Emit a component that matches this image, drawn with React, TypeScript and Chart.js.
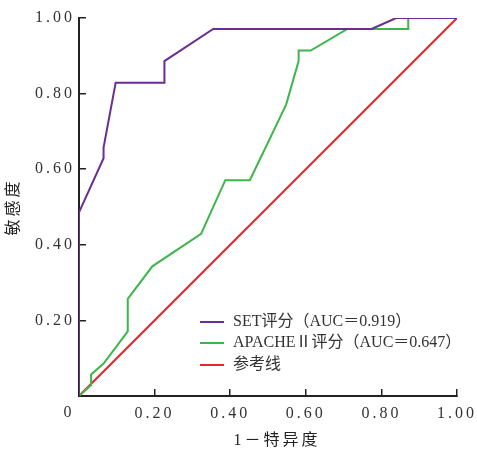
import React, { useEffect, useRef } from "react";
import { Chart, registerables } from "chart.js";

Chart.register(...registerables);

// SET score ROC curve (1-specificity, sensitivity)
const setFpr = [0, 0, 0.065, 0.065, 0.097, 0.226, 0.226, 0.355, 0.774, 0.839, 1];
const setTpr = [0, 0.486, 0.629, 0.657, 0.829, 0.829, 0.886, 0.971, 0.971, 1, 1];

// APACHE II ROC curve
const apacheFpr = [0, 0.032, 0.032, 0.065, 0.129, 0.129, 0.194, 0.323, 0.387, 0.452, 0.548, 0.581, 0.581, 0.613, 0.71, 0.871, 0.871, 1];
const apacheTpr = [0, 0.029, 0.057, 0.086, 0.171, 0.257, 0.343, 0.429, 0.571, 0.571, 0.771, 0.886, 0.914, 0.914, 0.971, 0.971, 1, 1];

// Reference line
const refX = [0, 1];
const refY = [0, 1];

const seriesLabels = ["SET评分（AUC＝0.919）", "APACHEⅡ评分（AUC＝0.647）", "参考线"];
const seriesColors = ["#6a2d91", "#3db54a", "#ec2327"];
const tickValues = [0, 0.2, 0.4, 0.6, 0.8, 1.0];
const xTitle = "1－特异度";
const yTitle = "敏感度";
const originLabel = "0";

const serif = "'Liberation Serif', 'Noto Sans CJK SC', serif";

const toPoints = (xs: number[], ys: number[]) => xs.map((x, i) => ({ x, y: ys[i] }));

export default function App() {
  const ref = useRef<HTMLCanvasElement | null>(null);

  useEffect(() => {
    const canvas = ref.current;
    if (!canvas) return;

    const spacingPlugin = {
      id: "spacing",
      beforeDraw(chart: any) {
        chart.ctx.letterSpacing = "3px";
      },
      beforeDatasetsDraw(chart: any) {
        chart.ctx.letterSpacing = "0px";
      },
    };

    const customPlugin = {
      id: "customLegend",
      afterDraw(chart: any) {
        const ctx = chart.ctx;
        const area = chart.chartArea;
        const xs = chart.scales.x;
        const ys = chart.scales.y;
        ctx.save();
        ctx.letterSpacing = "3px";
        ctx.fillStyle = "#333";
        ctx.font = `16px ${serif}`;
        ctx.textAlign = "center";
        ctx.textBaseline = "middle";
        ctx.fillText(originLabel, xs.getPixelForValue(0) - 10, ys.getPixelForValue(0) + 17);
        // x-axis title
        ctx.fillStyle = "#222";
        ctx.fillText(xTitle, (area.left + area.right) / 2 + 9, area.bottom + 45);
        ctx.letterSpacing = "0px";
        // legend
        const left = area.left + 121;
        const rowsFromBottom = [74, 53, 31];
        ctx.font = `16px ${serif}`;
        ctx.textAlign = "left";
        chart.data.datasets.forEach((ds: any, i: number) => {
          const y = area.bottom - rowsFromBottom[i];
          ctx.strokeStyle = ds.borderColor;
          ctx.lineWidth = 2;
          ctx.beginPath();
          ctx.moveTo(left, y);
          ctx.lineTo(left + 24, y);
          ctx.stroke();
          ctx.fillStyle = "#333";
          ctx.fillText(ds.label, left + 33, y);
        });
        ctx.restore();
      },
    };

    const fmt = (v: any) => {
      const n = Number(v);
      if (Math.abs(n) < 1e-9) return "";
      return n.toFixed(2);
    };

    const chart = new Chart(canvas, {
      type: "scatter",
      data: {
        datasets: [
          {
            label: seriesLabels[0],
            data: toPoints(setFpr, setTpr),
            borderColor: seriesColors[0],
            backgroundColor: seriesColors[0],
            showLine: true,
            borderWidth: 2,
            pointRadius: 0,
            tension: 0,
          },
          {
            label: seriesLabels[1],
            data: toPoints(apacheFpr, apacheTpr),
            borderColor: seriesColors[1],
            backgroundColor: seriesColors[1],
            showLine: true,
            borderWidth: 2,
            pointRadius: 0,
            tension: 0,
          },
          {
            label: seriesLabels[2],
            data: toPoints(refX, refY),
            borderColor: seriesColors[2],
            backgroundColor: seriesColors[2],
            showLine: true,
            borderWidth: 2,
            pointRadius: 0,
            tension: 0,
          },
        ],
      },
      options: {
        responsive: false,
        animation: false,
        events: [],
        layout: { padding: { left: 0, top: 18, right: 20, bottom: 0 } },
        plugins: {
          legend: { display: false },
          tooltip: { enabled: false },
        },
        scales: {
          x: {
            type: "linear",
            min: 0,
            max: 1,
            afterBuildTicks: (scale: any) => {
              scale.ticks = tickValues.map((v) => ({ value: v }));
            },
            afterFit: (scale: any) => {
              scale.height = 53;
              scale.paddingLeft = 0;
              scale.paddingRight = 0;
            },
            ticks: {
              callback: fmt,
              color: "#333",
              font: { family: serif, size: 16 },
              padding: 15,
              maxRotation: 0,
              autoSkip: false,
            },
            grid: {
              drawOnChartArea: false,
              drawTicks: true,
              tickLength: -7,
              color: "#222",
              lineWidth: 1.5,
            },
            border: { display: true, color: "#222", width: 2 },
            title: { display: false, text: xTitle },
          },
          y: {
            type: "linear",
            min: 0,
            max: 1,
            afterBuildTicks: (scale: any) => {
              scale.ticks = tickValues.map((v) => ({ value: v }));
            },
            afterFit: (scale: any) => {
              scale.width = 79;
              scale.paddingTop = 0;
              scale.paddingBottom = 0;
            },
            ticks: {
              callback: fmt,
              color: "#333",
              font: { family: serif, size: 16 },
              padding: 11,
              autoSkip: false,
            },
            grid: {
              drawOnChartArea: false,
              drawTicks: true,
              tickLength: -7,
              color: "#222",
              lineWidth: 1.5,
            },
            border: { display: true, color: "#222", width: 2 },
            title: {
              display: true,
              text: yTitle,
              color: "#222",
              font: { family: serif, size: 16, lineHeight: 1 },
              padding: { top: 6, bottom: 0 },
            },
          },
        },
      },
      plugins: [spacingPlugin, customPlugin],
    } as any);

    return () => chart.destroy();
  }, []);

  return (
    <div style={{ position: "absolute", left: 0, top: 0, width: 477, height: 449, background: "#fff" }}>
      <canvas ref={ref} width={477} height={449} style={{ display: "block", width: 477, height: 449 }} />
    </div>
  );
}
